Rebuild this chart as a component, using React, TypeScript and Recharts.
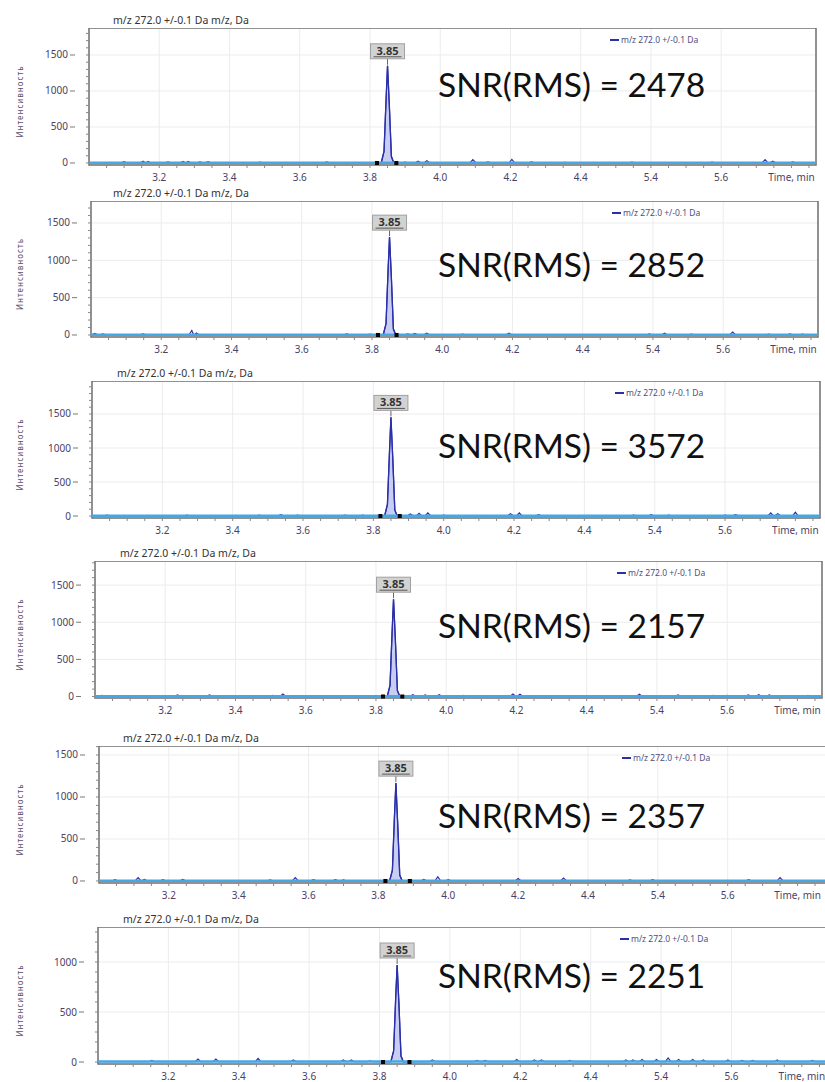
import React from 'react';
import {
  ComposedChart,
  Line,
  Area,
  XAxis,
  YAxis,
  CartesianGrid,
  ReferenceLine,
  ReferenceDot,
  ReferenceArea
} from 'recharts';

// x axis has a break after 4.4: positions are even, labels jump to 5.4
const xTickPositions = [3.2, 3.4, 3.6, 3.8, 4.0, 4.2, 4.4, 4.6, 4.8, 5.0];
const xTickLabels = ['3.2', '3.4', '3.6', '3.8', '4.0', '4.2', '4.4', '5.4', '5.6', 'Time, min'];
const yTickValues = [0, 500, 1000, 1500];

const snrValues = [2478, 2852, 3572, 2157, 2357, 2251];
const peakLabel = '3.85';
const peakApexTime = 3.85;
const peakTimes = [3.832, 3.84, 3.846, 3.85, 3.855, 3.861, 3.868];
const peak1 = [0, 160, 900, 1350, 820, 90, 0];
const peak2 = [0, 150, 880, 1310, 800, 80, 0];
const peak3 = [0, 170, 960, 1450, 880, 90, 0];
const peak4 = [0, 150, 870, 1310, 790, 80, 0];
const peak5 = [0, 130, 780, 1165, 700, 70, 0];
const peak6 = [0, 110, 650, 970, 590, 60, 0];

// integration start / end markers
const markers1 = [3.82, 3.875];
const markers2 = [3.817, 3.87];
const markers3 = [3.82, 3.875];
const markers4 = [3.82, 3.875];
const markers5 = [3.82, 3.89];
const markers6 = [3.81, 3.885];

// small noise bumps on the baseline: [time, intensity]
const bumps1 = [[3.1, 18], [3.154, 25], [3.168, 20], [3.225, 15], [3.268, 20], [3.282, 22], [3.316, 15], [3.339, 18], [3.487, 12], [3.677, 15], [3.9, 12], [3.937, 25], [3.962, 30], [4.093, 45], [4.136, 15], [4.204, 50], [4.26, 15], [4.355, 10], [4.546, 12], [4.774, 12], [4.925, 45], [4.947, 25], [5.004, 15]];
const bumps2 = [[3.011, 20], [3.034, 15], [3.148, 15], [3.287, 60], [3.3, 25], [3.728, 15], [3.794, 12], [3.902, 15], [3.922, 20], [3.956, 25], [4.058, 12], [4.19, 25], [4.59, 15], [4.633, 25], [4.71, 12], [4.827, 40], [4.93, 12], [4.99, 15], [5.026, 12]];
const bumps3 = [[3.043, 15], [3.27, 15], [3.475, 12], [3.537, 20], [3.585, 15], [3.72, 12], [3.77, 15], [3.905, 30], [3.93, 40], [3.955, 45], [4.0, 15], [4.19, 35], [4.215, 45], [4.27, 20], [4.54, 15], [4.59, 20], [4.64, 15], [4.8, 15], [4.83, 20], [4.93, 45], [4.95, 35], [5.0, 55]];
const bumps4 = [[3.02, 15], [3.235, 20], [3.326, 20], [3.505, 15], [3.535, 35], [3.7, 12], [3.905, 25], [3.94, 20], [3.98, 25], [4.05, 15], [4.19, 35], [4.21, 30], [4.3, 12], [4.55, 30], [4.66, 20], [4.76, 15], [4.8, 15], [4.86, 20], [4.89, 25], [4.92, 20], [5.03, 15]];
const bumps5 = [[3.046, 15], [3.112, 40], [3.13, 20], [3.183, 15], [3.24, 20], [3.49, 12], [3.562, 40], [3.614, 15], [3.677, 15], [3.7, 12], [3.93, 20], [3.97, 50], [4.0, 15], [4.2, 30], [4.33, 35], [4.52, 12], [4.585, 15], [4.86, 15], [4.95, 40]];
const bumps6 = [[3.153, 15], [3.284, 30], [3.335, 30], [3.455, 35], [3.555, 20], [3.697, 20], [3.72, 20], [3.773, 12], [3.95, 20], [4.077, 15], [4.1, 15], [4.19, 25], [4.24, 20], [4.26, 20], [4.34, 15], [4.5, 20], [4.52, 20], [4.546, 25], [4.587, 25], [4.62, 40], [4.65, 25], [4.69, 25], [4.72, 20], [4.79, 20], [4.83, 15], [4.86, 15], [4.93, 20], [5.03, 15]];

// panel placement on the page (plot-area edges in px) and axis ranges
const layouts = [
  { left: 89, right: 816, top: 28, bottom: 165, yMin: -28, yMax: 1875, xMax: 5.07, titleX: 113, legendX: 610 },
  { left: 91, right: 818, top: 201, bottom: 337, yMin: -27, yMax: 1794, xMax: 5.07, titleX: 113, legendX: 612 },
  { left: 92, right: 820, top: 381, bottom: 518, yMin: -29, yMax: 1985, xMax: 5.07, titleX: 117, legendX: 615 },
  { left: 95, right: 822, top: 561, bottom: 698, yMin: -20, yMax: 1824, xMax: 5.07, titleX: 120, legendX: 617 },
  { left: 99, right: 829, top: 746, bottom: 883, yMin: -24, yMax: 1607, xMax: 5.09, titleX: 123, legendX: 622 },
  { left: 98, right: 830, top: 927, bottom: 1064, yMin: -20, yMax: 1350, xMax: 5.08, titleX: 123, legendX: 620 }
];
const snrBaselines = [97, 277, 458, 638, 828, 988];

const panels = [
  { bumps: bumps1, peak: peak1, markers: markers1 },
  { bumps: bumps2, peak: peak2, markers: markers2 },
  { bumps: bumps3, peak: peak3, markers: markers3 },
  { bumps: bumps4, peak: peak4, markers: markers4 },
  { bumps: bumps5, peak: peak5, markers: markers5 },
  { bumps: bumps6, peak: peak6, markers: markers6 }
];

const TRACE = '#2b2fa8';
const TICK_TEXT = '#4b3f63';
const FONT = '"Noto Sans", sans-serif';

function buildTrace(bumps: number[][], peak: number[]) {
  const pts: { t: number; v: number }[] = [{ t: 3.0, v: 3 }];
  bumps.forEach(([t, h]) => {
    pts.push({ t: t - 0.008, v: 3 }, { t, v: h }, { t: t + 0.008, v: 3 });
  });
  peakTimes.forEach((t, i) => pts.push({ t, v: peak[i] }));
  pts.push({ t: 5.1, v: 3 });
  return pts.sort((a, b) => a.t - b.t);
}

const minorX: number[] = [];
for (let i = 61; i <= 101; i++) minorX.push(Math.round(i * 5) / 100);

const XTick = (props: any) => {
  const { x, y, payload } = props;
  const idx = xTickPositions.findIndex((p) => Math.abs(p - payload.value) < 1e-6);
  if (idx < 0) return <g />;
  return (
    <text x={x} y={y + 13} textAnchor="middle" fontSize={10} fontFamily={FONT} fill={TICK_TEXT}>
      {xTickLabels[idx]}
    </text>
  );
};

const YTick = (props: any) => {
  const { x, y, payload } = props;
  if (!yTickValues.includes(payload.value)) return <g />;
  return (
    <g>
      <line x1={x - 16} x2={x - 11} y1={y} y2={y} stroke="#777" strokeWidth={1} />
      <text x={x - 18} y={y + 3.5} textAnchor="end" fontSize={10} fontFamily={FONT} fill={TICK_TEXT}>
        {payload.value}
      </text>
    </g>
  );
};

const PeakTag = (props: any) => {
  const { cx, cy } = props;
  return (
    <g>
      <line x1={cx} x2={cx} y1={cy - 1} y2={cy - 7} stroke="#666" strokeWidth={1} />
      <rect x={cx - 17} y={cy - 22} width={34} height={15} fill="#d2d2d2" stroke="#a0a0a0" strokeWidth={1} />
      <line x1={cx - 14} x2={cx + 14} y1={cy - 9} y2={cy - 9} stroke="#555" strokeWidth={1} />
      <text x={cx} y={cy - 11} textAnchor="middle" fontSize={11} fontWeight="bold" fontFamily={FONT} fill="#333">
        {peakLabel}
      </text>
    </g>
  );
};

const Marker = (props: any) => {
  const { cx, cy } = props;
  return <rect x={cx - 2} y={cy - 2} width={4} height={4} fill="#000" />;
};

function Panel({ index }: { index: number }) {
  const g = layouts[index];
  const p = panels[index];
  const trace = buildTrace(p.bumps, p.peak);
  const peakData = peakTimes.map((t, i) => ({ t, v: p.peak[i] }));
  const yTicks: number[] = [];
  for (let v = 0; v <= g.yMax; v += 100) yTicks.push(v);
  const width = g.right + 10;
  const height = g.bottom - g.top + 30;
  return (
    <div style={{ position: 'absolute', left: 0, top: g.top }}>
      <ComposedChart
        width={width}
        height={height}
        margin={{ top: 0, right: 10, bottom: 0, left: g.left - 40 }}
      >
        <CartesianGrid
          stroke="#ececec"
          horizontalValues={yTickValues.filter((v) => v > 0 && v < g.yMax)}
          verticalValues={xTickPositions.slice(0, 9)}
        />
        <XAxis
          dataKey="t"
          type="number"
          domain={[3.0, g.xMax]}
          ticks={minorX.filter((v) => v < g.xMax)}
          interval={0}
          allowDataOverflow
          axisLine={false}
          tickLine={{ stroke: '#888' }}
          tickSize={3}
          tickMargin={0}
          height={30}
          tick={<XTick />}
        />
        <YAxis
          type="number"
          domain={[g.yMin, g.yMax]}
          ticks={yTicks}
          interval={0}
          allowDataOverflow
          axisLine={false}
          tickLine={{ stroke: '#888' }}
          tickSize={3}
          tickMargin={0}
          width={40}
          tick={<YTick />}
        />
        <Area
          data={peakData}
          dataKey="v"
          type="linear"
          baseValue={0}
          stroke={TRACE}
          strokeWidth={1.3}
          fill="#c8cdf2"
          fillOpacity={1}
          isAnimationActive={false}
        />
        <Line
          data={trace}
          dataKey="v"
          type="linear"
          stroke={TRACE}
          strokeWidth={1.2}
          dot={false}
          isAnimationActive={false}
        />
        <ReferenceLine y={4} stroke="#45a8e4" strokeWidth={2.5} />
        {p.markers.map((m) => (
          <ReferenceDot key={m} x={m} y={0} r={2} shape={<Marker />} ifOverflow="visible" />
        ))}
        <ReferenceDot
          x={peakApexTime}
          y={p.peak[3]}
          r={1}
          shape={<PeakTag />}
          ifOverflow="visible"
        />
        <ReferenceArea
          x1={3.0}
          x2={g.xMax}
          y1={g.yMin}
          y2={g.yMax}
          fill="none"
          stroke="#6e6e6e"
          strokeWidth={1.5}
          ifOverflow="visible"
        />
      </ComposedChart>
    </div>
  );
}

export default function App() {
  return (
    <div
      style={{
        position: 'fixed',
        left: 0,
        top: 0,
        width: 825,
        height: 1082,
        overflow: 'hidden',
        background: '#fff'
      }}
    >
      {layouts.map((_, i) => (
        <Panel key={i} index={i} />
      ))}
      <svg
        width={825}
        height={1082}
        style={{ position: 'absolute', left: 0, top: 0, pointerEvents: 'none' }}
      >
        {layouts.map((g, i) => {
          const mid = (g.top + g.bottom) / 2 + 5;
          return (
            <g key={i}>
              <text x={g.titleX} y={g.top - 4} fontSize={10.5} fontFamily={FONT} fill="#333">
                m/z 272.0 +/-0.1 Da m/z, Da
              </text>
              <text
                transform={`translate(23, ${mid}) rotate(-90)`}
                textAnchor="middle"
                fontSize={8}
                letterSpacing={1}
                fontFamily={FONT}
                fill="#5a4d6e"
              >
                Интенсивность
              </text>
              <line x1={g.legendX} x2={g.legendX + 9} y1={g.top + 12} y2={g.top + 12} stroke={TRACE} strokeWidth={2} />
              <text x={g.legendX + 11} y={g.top + 15} fontSize={8.5} fontFamily={FONT} fill="#4d4f80">
                m/z 272.0 +/-0.1 Da
              </text>
              <text x={438} y={snrBaselines[i]} fontSize={33.5} fontFamily="Lato, sans-serif" fill="#111">
                {`SNR(RMS) = ${snrValues[i]}`}
              </text>
            </g>
          );
        })}
      </svg>
    </div>
  );
}
